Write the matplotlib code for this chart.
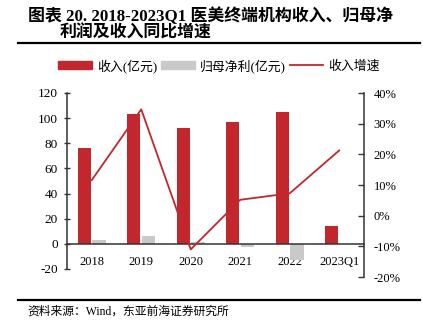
import matplotlib
matplotlib.use('Agg')
import matplotlib.pyplot as plt
from matplotlib.patches import Patch
from matplotlib.lines import Line2D
import numpy as np

plt.rcParams['font.family'] = ['Liberation Serif', 'Noto Sans CJK SC']
plt.rcParams['axes.unicode_minus'] = False

years = ['2018', '2019', '2020', '2021', '2022', '2023Q1']
revenue = [76, 103, 92, 97, 104.5, 14]
net_profit = [3.0, 6.6, 1.5, -2.5, -12.5, 0]
growth = [11.6, 34.7, -11.0, 5.2, 7.3, 21.3]

red = '#C1272D'
grey = '#C9C9C9'
dark = '#333333'

fig = plt.figure(figsize=(4.23, 3.29), dpi=100)

# left axis (bars)
ax = fig.add_axes([0.1584, 0.1824, 0.702, 0.535])
x = np.arange(len(years))
w = 0.27
ax.bar(x - 0.15, revenue, w, color=red, zorder=2)
ax.bar(x + 0.15, net_profit, w, color=grey, zorder=2)
ax.set_xlim(-0.5, 5.5)
ax.set_ylim(-20, 120)
ax.set_yticks(np.arange(-20, 121, 20))
ax.spines['top'].set_visible(False)
ax.spines['right'].set_visible(False)
ax.spines['bottom'].set_position(('data', 0))
ax.spines['bottom'].set_color(dark)
ax.spines['left'].set_color(dark)
ax.spines['bottom'].set_linewidth(1.1)
ax.spines['left'].set_linewidth(1.1)
ax.set_xticks(x)
ax.set_xticklabels(years, fontsize=9)
ax.tick_params(axis='x', length=0, pad=9)
ax.tick_params(axis='y', direction='inout', length=5, width=1, color=dark,
               labelsize=9.5, pad=4)
ax.patch.set_alpha(0)

# right axis (growth line), slightly taller box
ax2 = fig.add_axes([0.1584, 0.158, 0.702, 0.559])
ax2.plot(x, growth, color=red, lw=1.3, zorder=3)
ax2.set_xlim(-0.5, 5.5)
ax2.set_ylim(-20, 40)
ax2.set_yticks(np.arange(-20, 41, 10))
ax2.yaxis.set_major_formatter(plt.FuncFormatter(lambda v, p: f'{v:.0f}%'))
ax2.yaxis.tick_right()
for s in ['top', 'left', 'bottom']:
    ax2.spines[s].set_visible(False)
ax2.spines['right'].set_color(dark)
ax2.spines['right'].set_linewidth(1.1)
ax2.set_xticks([])
ax2.tick_params(axis='y', direction='in', length=4, width=1, color=dark,
                labelsize=9, pad=7)
ax2.patch.set_alpha(0)

# title
fig.text(0.066, 0.952, '图表 20. 2018-2023Q1 医美终端机构收入、归母净',
         fontsize=12.2, fontweight='bold', va='center', ha='left')
fig.text(0.142, 0.897, '利润及收入同比增速',
         fontsize=12.2, fontweight='bold', va='center', ha='left')
fig.add_artist(Line2D([0.043, 0.993], [0.869, 0.869], color='black', lw=1.6))
fig.add_artist(Line2D([0.043, 0.993], [0.088, 0.088], color='black', lw=1.6))
fig.text(0.064, 0.053, '资料来源：Wind，东亚前海证券研究所', fontsize=8.5,
         va='center', ha='left')

# legend
handles = [Patch(color=red), Patch(color=grey), Line2D([], [], color=red, lw=1.3)]
labels = ['收入(亿元)', '归母净利(亿元)', '收入增速']
fig.legend(handles, labels, loc='center', bbox_to_anchor=(0.518, 0.80), ncol=3,
           frameon=False, fontsize=9.3, handlelength=2.6, handleheight=0.6,
           handletextpad=0.4, columnspacing=0.3)

fig.savefig('out.png', dpi=100)
